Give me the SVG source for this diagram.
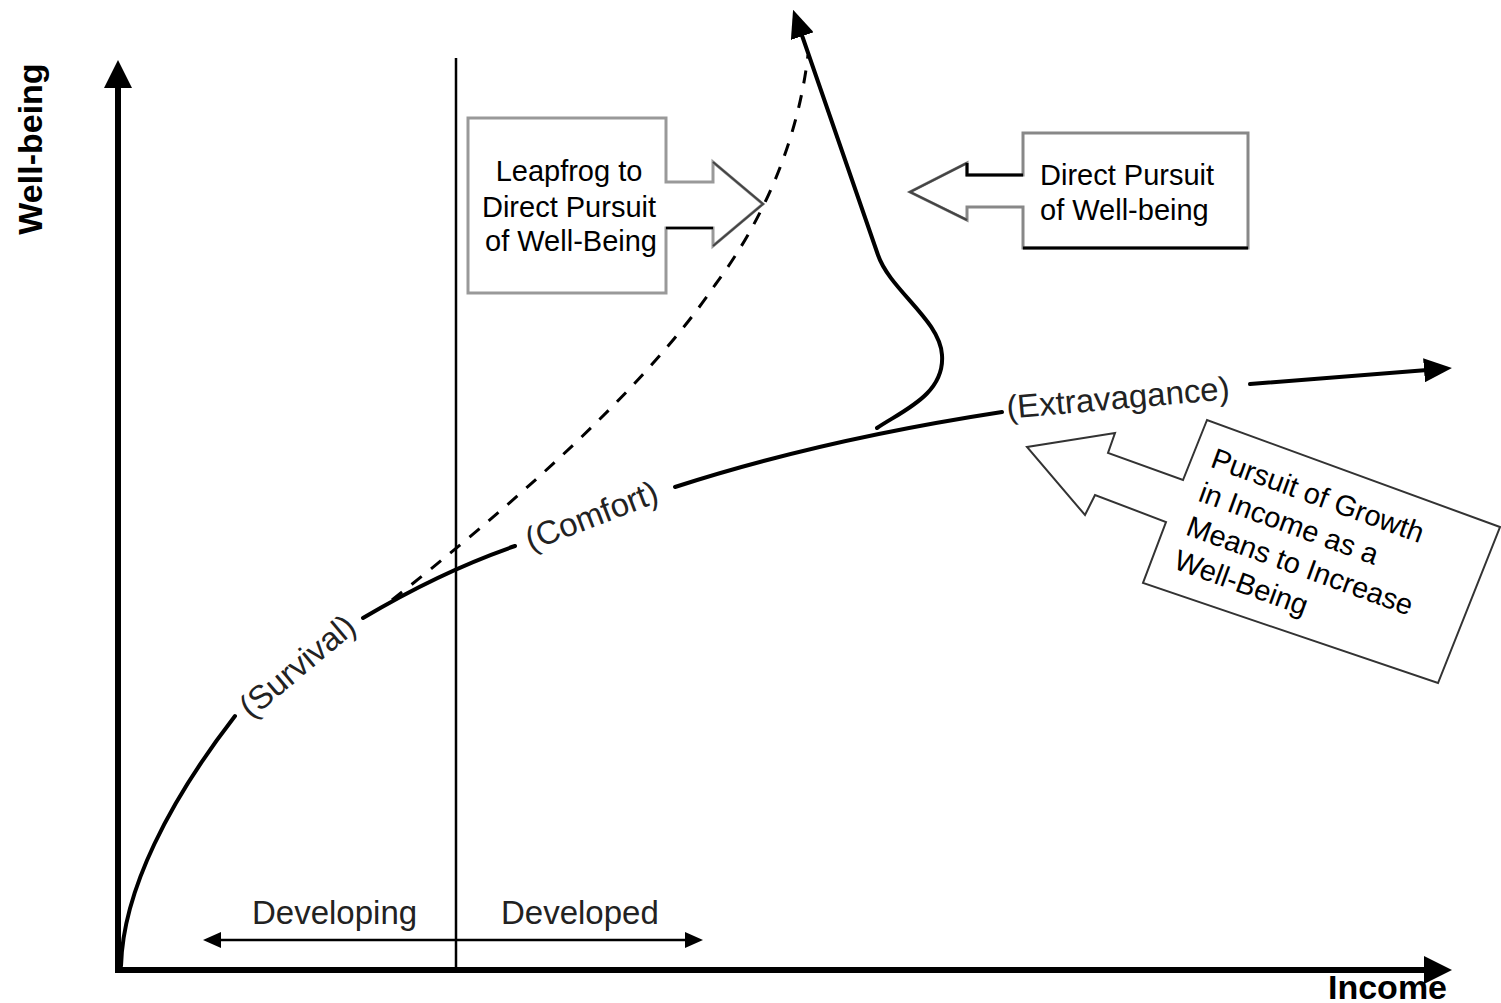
<svg xmlns="http://www.w3.org/2000/svg" width="1501" height="1003" viewBox="0 0 1501 1003">
  <style>
    text { font-family: "Liberation Sans", Arial, sans-serif; fill: #000; }
    .lbl { font-size: 33px; fill: #222; }
    .box { font-size: 29px; }
    .axislbl { font-size: 34px; font-weight: bold; }
    .axis { stroke: #000; stroke-width: 6; fill: none; }
    .curve { stroke: #000; stroke-width: 4; fill: none; stroke-linecap: round; }
    .dash { stroke: #000; stroke-width: 3; fill: none; stroke-dasharray: 13 12; }
    .thin { stroke: #000; stroke-width: 2.5; fill: none; }
  </style>
  <defs>
    <marker id="axisHead" markerUnits="userSpaceOnUse" markerWidth="28" markerHeight="28" viewBox="0 0 28 28" refX="18" refY="14" orient="auto">
      <path d="M0,0 L28,14 L0,28 Z" fill="#000"/>
    </marker>
    <marker id="head" markerUnits="userSpaceOnUse" markerWidth="28" markerHeight="24" viewBox="0 0 28 24" refX="16" refY="12" orient="auto">
      <path d="M0,0 L28,12 L0,24 Z" fill="#000"/>
    </marker>
    <marker id="small" markerUnits="userSpaceOnUse" markerWidth="18" markerHeight="18" viewBox="0 0 18 18" refX="9" refY="9" orient="auto-start-reverse">
      <path d="M0,1 L18,9 L0,17 Z" fill="#000"/>
    </marker>
  </defs>

  <rect width="1501" height="1003" fill="#fff"/>

  <!-- axes and the developing / developed divider -->
  <g id="axes">
    <path class="axis" d="M118,973 L118,70" marker-end="url(#axisHead)"/>
    <path class="axis" d="M115,970 L1442,970" marker-end="url(#axisHead)"/>
    <path class="thin" d="M456,58 L456,970"/>
    <path class="thin" stroke-width="3" d="M212,940 L694,940" marker-start="url(#small)" marker-end="url(#small)"/>
    <text class="axislbl" text-anchor="middle" transform="translate(42,149) rotate(-90)">Well-being</text>
    <text class="axislbl" x="1328" y="999">Income</text>
    <text class="lbl" x="252" y="924">Developing</text>
    <text class="lbl" x="501" y="924">Developed</text>
  </g>

  <!-- well-being curves -->
  <g id="connectors">
    <path class="curve" d="M121,966 C123,890 170,800 235,716"/>
    <path class="curve" d="M363,618 Q440,572 515,546"/>
    <path class="curve" d="M675,487 Q820,440 1002,412"/>
    <path class="curve" d="M1250,384 L1440,369" marker-end="url(#head)"/>
    <path class="curve" d="M877,428 C900,412 945,395 942,355 C940,320 890,290 878,255 L797,21" marker-end="url(#head)"/>
    <path class="dash" d="M392,600 C500,515 640,395 715,285 C745,245 795,165 808,55"/>
  </g>

  <!-- stage labels along the curve -->
  <g id="stages">
    <text class="lbl" text-anchor="middle" transform="translate(298,667) rotate(-40)" y="10">(Survival)</text>
    <text class="lbl" text-anchor="middle" transform="translate(592,517) rotate(-21)" y="10">(Comfort)</text>
    <text class="lbl" text-anchor="middle" transform="translate(1118,399) rotate(-5)" y="10">(Extravagance)</text>
  </g>

  <!-- callout: leapfrog -->
  <g id="leapfrog">
    <path d="M468,118 L666,118 L666,182 L713,182 L713,162 L763,204 L713,246 L713,228 L666,228 L666,293 L468,293 Z" fill="#fff" stroke="#999" stroke-width="3"/>
    <path d="M713,162 L763,204 L713,246" fill="none" stroke="#444" stroke-width="2"/>
    <path d="M666,228 L713,228" stroke="#000" stroke-width="2.5"/>
    <text class="box" text-anchor="middle" x="569" y="181">Leapfrog to</text>
    <text class="box" text-anchor="middle" x="569" y="217">Direct Pursuit</text>
    <text class="box" text-anchor="middle" x="571" y="251">of Well-Being</text>
  </g>

  <!-- callout: direct pursuit -->
  <g id="direct">
    <path d="M1023,133 L1248,133 L1248,248 L1023,248 L1023,207 L967,207 L967,220 L910,192 L967,163 L967,175 L1023,175 Z" fill="#fff" stroke="#888" stroke-width="3"/>
    <path d="M967,163 L910,192 L967,220" fill="none" stroke="#444" stroke-width="2"/>
    <path d="M967,163 L967,175 L1023,175 M1023,248 L1248,248" fill="none" stroke="#000" stroke-width="3"/>
    <text class="box" x="1040" y="185">Direct Pursuit</text>
    <text class="box" x="1040" y="220">of Well-being</text>
  </g>

  <!-- callout: pursuit of growth -->
  <g id="growth">
    <path d="M1207,420 L1183,480 L1108,453 L1115,433 L1027,447 L1085,515 L1095,495 L1166,522 L1143,583 L1438,683 L1500,527 Z" fill="#fff" stroke="#333" stroke-width="2"/>
    <g transform="translate(1207,420) rotate(20)">
      <text class="box" x="18" y="43">Pursuit of Growth</text>
      <text class="box" x="18" y="79">in Income as a</text>
      <text class="box" x="18" y="115">Means to Increase</text>
      <text class="box" x="18" y="151">Well-Being</text>
    </g>
  </g>
</svg>
